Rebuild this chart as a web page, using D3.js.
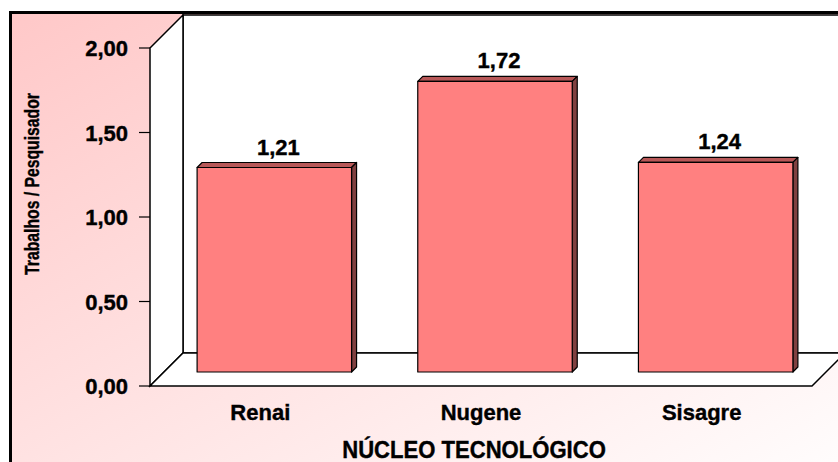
<!DOCTYPE html>
<html>
<head>
<meta charset="utf-8">
<script src="https://cdn.jsdelivr.net/npm/d3@7"></script>
<style>
  body { margin: 0; background: #fff; }
  text { font-family: Arial, "Liberation Sans", sans-serif; font-weight: bold; fill: #000;
         stroke: #000; stroke-width: 0.4px; }
</style>
</head>
<body>
<svg id="chart" width="838" height="462"></svg>
<script>
// data
const categories = ["Renai", "Nugene", "Sisagre"];
const values = [1.21, 1.72, 1.24];
const yTicks = [0, 0.5, 1, 1.5, 2];
const xTitle = "NÚCLEO TECNOLÓGICO";
const yTitle = "Trabalhos / Pesquisador";

const svg = d3.select("#chart");
const fmt = v => d3.format(".2f")(v).replace(".", ",");

// layout
const plotLeft = 150, plotRight = 812, plotTop = 48, plotBottom = 386;
const depth = 33;      // 3d wall depth
const barDepth = 14;   // bars sit part way into the floor
const ext = 5;         // bar extrusion

const x = d3.scaleBand().domain(categories).range([plotLeft, plotRight])
  .paddingInner(0.3).paddingOuter(0.15);
const y = d3.scaleLinear().domain([0, 2]).range([plotBottom, plotTop]);

// background gradient + frame
const defs = svg.append("defs");
const grad = defs.append("linearGradient").attr("id", "bg")
  .attr("x1", 0).attr("y1", 0).attr("x2", 1).attr("y2", 1);
grad.append("stop").attr("offset", 0).attr("stop-color", "#ffc8c8");
grad.append("stop").attr("offset", 1).attr("stop-color", "#ffffff");

svg.append("rect")
  .attr("x", 10.5).attr("y", 12.5).attr("width", 860).attr("height", 480)
  .attr("fill", "url(#bg)").attr("stroke", "#000").attr("stroke-width", 3);

// walls
const y0 = y(0), y2 = y(2);
const walls = svg.append("g").attr("fill", "#fff").attr("stroke", "#000").attr("stroke-width", 1.5);
// back wall
walls.append("rect")
  .attr("x", plotLeft + depth).attr("y", y2 - depth)
  .attr("width", 900).attr("height", y0 - y2);
// left side wall
walls.append("path")
  .attr("d", `M${plotLeft},${y2}L${plotLeft + depth},${y2 - depth}L${plotLeft + depth},${y0 - depth}L${plotLeft},${y0}Z`);
// floor
walls.append("path")
  .attr("d", `M${plotLeft},${y0}L${plotRight},${y0}L${plotRight + depth},${y0 - depth}L${plotLeft + depth},${y0 - depth}Z`);

// y axis ticks
const axis = svg.append("g");
axis.selectAll("line").data(yTicks).enter().append("line")
  .attr("x1", plotLeft - 11).attr("x2", plotLeft)
  .attr("y1", d => y(d)).attr("y2", d => y(d))
  .attr("stroke", "#000").attr("stroke-width", 1.2);
axis.selectAll("text").data(yTicks).enter().append("text")
  .attr("x", plotLeft - 22).attr("y", d => y(d) + 8)
  .attr("text-anchor", "end").attr("font-size", 22)
  .text(fmt);

// bars
const bars = svg.append("g").selectAll("g").data(values).enter().append("g")
  .attr("stroke", "#000").attr("stroke-width", 1.2).attr("stroke-linejoin", "round");

bars.each(function(v, i) {
  const g = d3.select(this);
  const bx = x(categories[i]) + barDepth;
  const bw = x.bandwidth();
  const by = y(v) - barDepth;
  const bb = y0 - barDepth;
  // top face
  g.append("path")
    .attr("d", `M${bx},${by}L${bx + ext},${by - ext}L${bx + bw + ext},${by - ext}L${bx + bw},${by}Z`)
    .attr("fill", "#b85858");
  // side face
  g.append("path")
    .attr("d", `M${bx + bw},${by}L${bx + bw + ext},${by - ext}L${bx + bw + ext},${bb - ext}L${bx + bw},${bb}Z`)
    .attr("fill", "#804040");
  // front face
  g.append("rect")
    .attr("x", bx).attr("y", by).attr("width", bw).attr("height", bb - by)
    .attr("fill", "#ff8080");
});

// value labels
svg.append("g").selectAll("text").data(values).enter().append("text")
  .attr("x", (d, i) => x(categories[i]) + barDepth + x.bandwidth() / 2 + 4)
  .attr("y", d => y(d) - barDepth - 13)
  .attr("text-anchor", "middle").attr("font-size", 22)
  .text(fmt);

// category labels
svg.append("g").selectAll("text").data(categories).enter().append("text")
  .attr("x", d => x(d) + x.bandwidth() / 2)
  .attr("y", 420)
  .attr("text-anchor", "middle").attr("font-size", 22)
  .text(d => d);

// axis titles (narrow bold type in the original)
svg.append("text")
  .attr("transform", "translate(474,458) scale(0.92,1)")
  .attr("text-anchor", "middle").attr("font-size", 24)
  .text(xTitle);

svg.append("text")
  .attr("transform", "translate(39,184) rotate(-90) scale(0.75,1)")
  .attr("text-anchor", "middle").attr("font-size", 21)
  .text(yTitle);
</script>
</body>
</html>
